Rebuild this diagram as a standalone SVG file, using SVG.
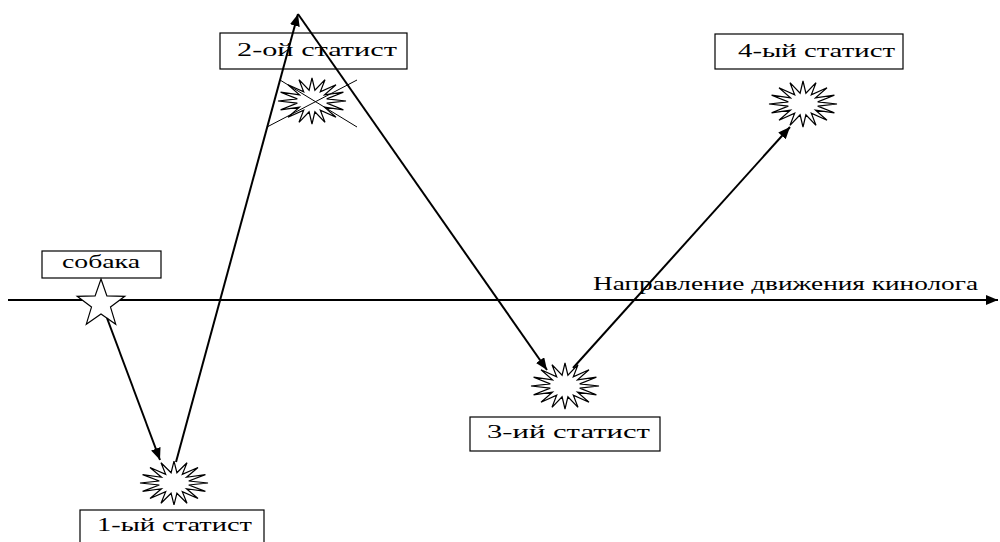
<svg xmlns="http://www.w3.org/2000/svg" width="1000" height="542" viewBox="0 0 1000 542">
<style>
.box{fill:#fff;stroke:#000;stroke-width:1.2}
.lbl{font-family:"Liberation Serif","Times New Roman","DejaVu Serif",serif;font-size:18px;fill:#000}
.arr{stroke:#000;stroke-width:2;fill:none;marker-end:url(#ah)}
.burst{fill:#fff;stroke:#000;stroke-width:1.2}
.thin{stroke:#000;stroke-width:1;fill:none}
</style>
<defs>
<marker id="ah" markerUnits="userSpaceOnUse" markerWidth="14" markerHeight="10" refX="12" refY="5" orient="auto">
<path d="M0,0 L12,5 L0,10 Z" fill="#000"/>
</marker>
<polygon id="bp" points="34,0 14.7,2.1 31.4,8.8 12.5,6.1 24,16.3 8.3,9.1 13,21.3 2.9,10.8 0,23 -2.9,10.8 -13,21.3 -8.3,9.1 -24,16.3 -12.5,6.1 -31.4,8.8 -14.7,2.1 -34,0 -14.7,-2.1 -31.4,-8.8 -12.5,-6.1 -24,-16.3 -8.3,-9.1 -13,-21.3 -2.9,-10.8 0,-23 2.9,-10.8 13,-21.3 8.3,-9.1 24,-16.3 12.5,-6.1 31.4,-8.8 14.7,-2.1"/>
</defs>
<g id="axis">
<line class="arr" x1="8" y1="300" x2="998" y2="300"/>
<text class="lbl" x="593" y="290" textLength="385" lengthAdjust="spacingAndGlyphs">Направление движения кинолога</text>
</g>
<g id="dog">
<rect class="box" x="42" y="251" width="119" height="27"/>
<text class="lbl" x="62" y="268" textLength="78" lengthAdjust="spacingAndGlyphs">собака</text>
<polygon class="burst" transform="translate(101,304)" points="0,-25 5.9,-8.1 23.8,-7.7 9.5,3.1 14.7,20.2 0,10 -14.7,20.2 -9.5,3.1 -23.8,-7.7 -5.9,-8.1"/>
</g>
<g id="s1">
<use href="#bp" class="burst" transform="translate(174,483) scale(1,0.95)"/>
<rect class="box" x="80" y="510" width="184" height="36"/>
<text class="lbl" x="97" y="531" textLength="155" lengthAdjust="spacingAndGlyphs">1-ый статист</text>
</g>
<g id="s2">
<rect class="box" x="220" y="33" width="187" height="36"/>
<text class="lbl" x="237" y="56" textLength="160" lengthAdjust="spacingAndGlyphs">2-ой статист</text>
<use href="#bp" class="burst" transform="translate(312,101)"/>
<line class="thin" x1="280" y1="80" x2="357" y2="127"/>
<line class="thin" x1="267" y1="127" x2="357" y2="80"/>
</g>
<g id="s3">
<use href="#bp" class="burst" transform="translate(565,386)"/>
<rect class="box" x="470" y="417" width="190" height="34"/>
<text class="lbl" x="487" y="438" textLength="163" lengthAdjust="spacingAndGlyphs">3-ий статист</text>
</g>
<g id="s4">
<rect class="box" x="715" y="34" width="188" height="35"/>
<text class="lbl" x="738" y="57" textLength="157" lengthAdjust="spacingAndGlyphs">4-ый статист</text>
<use href="#bp" class="burst" transform="translate(803,104)"/>
</g>
<g id="connectors">
<line class="arr" x1="107" y1="318" x2="160" y2="460"/>
<line class="arr" x1="176" y1="462" x2="298" y2="14"/>
<line class="arr" x1="298" y1="14" x2="547" y2="370"/>
<line class="arr" x1="573" y1="368" x2="790" y2="127"/>
</g>
</svg>
